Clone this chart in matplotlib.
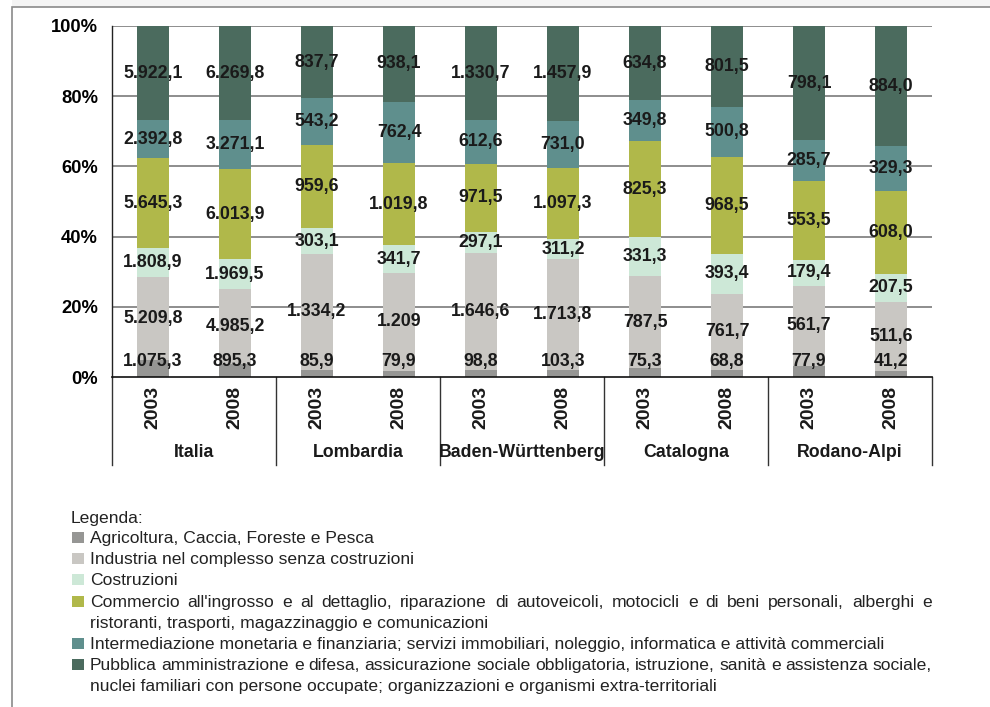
import numpy as np
import matplotlib
matplotlib.use('Agg')
import matplotlib.pyplot as plt
from matplotlib.patches import Rectangle
from matplotlib.lines import Line2D

plt.rcParams['font.family'] = ['Liberation Sans', 'DejaVu Sans']

regions = ['Italia', 'Lombardia', 'Baden-Württenberg', 'Catalogna', 'Rodano-Alpi']
years = ['2003', '2008']

# values per bar: Italia 03, 08, Lombardia 03, 08, ...
agricoltura = [1075.3, 895.3, 85.9, 79.9, 98.8, 103.3, 75.3, 68.8, 77.9, 41.2]
industria = [5209.8, 4985.2, 1334.2, 1209, 1646.6, 1713.8, 787.5, 761.7, 561.7, 511.6]
costruzioni = [1808.9, 1969.5, 303.1, 341.7, 297.1, 311.2, 331.3, 393.4, 179.4, 207.5]
commercio = [5645.3, 6013.9, 959.6, 1019.8, 971.5, 1097.3, 825.3, 968.5, 553.5, 608.0]
intermediazione = [2392.8, 3271.1, 543.2, 762.4, 612.6, 731.0, 349.8, 500.8, 285.7, 329.3]
pubblica = [5922.1, 6269.8, 837.7, 938.1, 1330.7, 1457.9, 634.8, 801.5, 798.1, 884.0]

series = [agricoltura, industria, costruzioni, commercio, intermediazione, pubblica]
colors = ['#969694', '#c9c7c3', '#cde8d7', '#b0b84a', '#5f8f8d', '#4b6b5e']

legend_title = 'Legenda:'
legend_labels = [
    ["Agricoltura, Caccia, Foreste e Pesca"],
    ["Industria nel complesso senza costruzioni"],
    ["Costruzioni"],
    ["Commercio all'ingrosso e al dettaglio, riparazione di autoveicoli, motocicli e di beni personali, alberghi e",
     "ristoranti, trasporti, magazzinaggio e comunicazioni"],
    ["Intermediazione monetaria e finanziaria; servizi immobiliari, noleggio, informatica e attività commerciali"],
    ["Pubblica amministrazione e difesa, assicurazione sociale obbligatoria, istruzione, sanità e assistenza sociale,",
     "nuclei familiari con persone occupate; organizzazioni e organismi extra-territoriali"],
]

W, H = 990, 707
def fx(x): return x / W
def fy(y): return 1 - y / H

def fmt(v):
    # italian number format
    if isinstance(v, int):
        return '{:,}'.format(v).replace(',', '.')
    s = '{:,.1f}'.format(v)
    return s.replace(',', 'X').replace('.', ',').replace('X', '.')

fig = plt.figure(figsize=(9.9, 7.07), dpi=100)

# outer frame
fig.patches.append(Rectangle((fx(12), fy(7)), 1, 1 - fy(7), transform=fig.transFigure,
                             facecolor='#f4f4f4', edgecolor='none'))
fig.patches.append(Rectangle((fx(12), -0.05), 1, fy(7) + 0.05, transform=fig.transFigure,
                             fill=False, edgecolor='#8a8a8a', lw=1.2))

ax = fig.add_axes([fx(112), fy(377), 820 / W, 351 / H])
data = np.array(series, dtype=float)
pct = data / data.sum(axis=0) * 100
x = np.arange(len(agricoltura)) + 0.5
bottom = np.zeros(len(x))
for i in range(len(series)):
    ax.bar(x, pct[i], 0.4, bottom=bottom, color=colors[i], zorder=2)
    for j in range(len(x)):
        yc = max(bottom[j] + pct[i][j] / 2, 4.3)
        ax.text(x[j], yc, fmt(series[i][j]), ha='center', va='center',
                fontsize=12.8, fontweight='bold', color='#1a1a1a', zorder=3)
    bottom += pct[i]

ax.set_xlim(0, 10)
ax.set_ylim(0, 100)
ax.set_yticks([0, 20, 40, 60, 80, 100])
ax.set_yticklabels(['0%', '20%', '40%', '60%', '80%', '100%'], fontsize=13.2, fontweight='bold')
ax.tick_params(axis='y', length=0, pad=10)
ax.set_xticks([])
for y in [20, 40, 60, 80, 100]:
    ax.axhline(y, color='#7a7a7a', lw=1.2, zorder=1)
for s in ['top', 'right']:
    ax.spines[s].set_visible(False)
ax.spines['left'].set_color('#222222')
ax.spines['bottom'].set_color('#111111')
ax.spines['left'].set_linewidth(1.0)
ax.spines['bottom'].set_linewidth(1.2)

tr = ax.get_xaxis_transform()
for j in range(len(x)):
    ax.text(x[j], -0.088, years[j % 2], transform=tr, rotation=90, ha='center', va='center',
            fontsize=14, fontweight='bold', color='#1a1a1a')
for g in range(len(regions)):
    ax.text(2 * g + 1, -0.2165, regions[g], transform=tr, ha='center', va='center',
            fontsize=12.8, fontweight='bold', color='#1a1a1a')
for g in range(len(regions) + 1):
    ax.add_line(Line2D([2 * g, 2 * g], [0, -0.2507], transform=tr, color='#333333',
                       lw=1.0, clip_on=False))

# legend
r = fig.canvas.get_renderer()
def justified(text, x0, x1, y, **kw):
    words = text.split(' ')
    widths = []
    for w in words:
        t = fig.text(0, 0, w, **kw)
        widths.append(t.get_window_extent(r).width)
        t.remove()
    gap = (x1 - x0 - sum(widths)) / (len(words) - 1)
    xx = x0
    for w, wd in zip(words, widths):
        fig.text(fx(xx), fy(y), w, va='baseline', **kw)
        xx += wd + gap

lkw = dict(fontsize=12.6, color='#222222')
fig.text(fx(71), fy(523), legend_title, va='baseline', **lkw)
base = 543
for i, lines in enumerate(legend_labels):
    fig.patches.append(Rectangle((fx(72), fy(base)), 12 / W, 11 / H,
                                 transform=fig.transFigure, facecolor=colors[i], edgecolor='none'))
    for k, line in enumerate(lines):
        if k < len(lines) - 1:
            justified(line, 90, 932, base, **lkw)
        else:
            fig.text(fx(90), fy(base), line, va='baseline', **lkw)
        base += 21.2

fig.savefig('out.png', dpi=100)
